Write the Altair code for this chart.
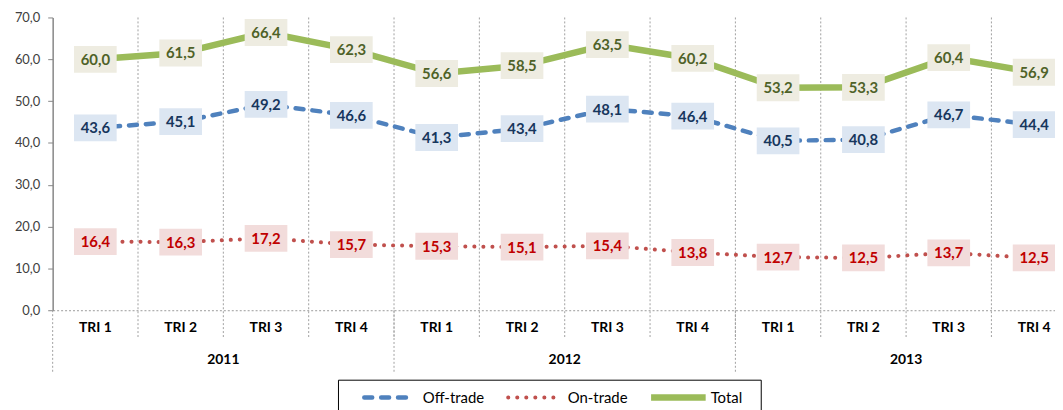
import altair as alt
import pandas as pd

quarters = ["TRI 1", "TRI 2", "TRI 3", "TRI 4"] * 3
years = ["2011", "2012", "2013"]
series = ["Off-trade", "On-trade", "Total"]
total = [60.0, 61.5, 66.4, 62.3, 56.6, 58.5, 63.5, 60.2, 53.2, 53.3, 60.4, 56.9]
off_trade = [43.6, 45.1, 49.2, 46.6, 41.3, 43.4, 48.1, 46.4, 40.5, 40.8, 46.7, 44.4]
on_trade = [16.4, 16.3, 17.2, 15.7, 15.3, 15.1, 15.4, 13.8, 12.7, 12.5, 13.7, 12.5]

line_col = {"Off-trade": "#4F81BD", "On-trade": "#C0504D", "Total": "#9BBB59"}
box_col = {"Off-trade": "#DCE6F2", "On-trade": "#F2DCDB", "Total": "#EEECE1"}
txt_col = {"Off-trade": "#17365D", "On-trade": "#C00000", "Total": "#4F6228"}
FONT = "Lato"

rows = []
for name, vals in zip(series, [off_trade, on_trade, total]):
    for i, v in enumerate(vals):
        rows.append({"series": name, "i": i, "v": v, "lab": f"{v:.1f}".replace(".", ",")})
df = pd.DataFrame(rows)

n = len(quarters)
xscale = alt.Scale(domain=[-0.5, 11.245], nice=False, zero=False)
yscale = alt.Scale(domain=[0, 70], nice=False)

X = alt.X("i:Q", scale=xscale, axis=alt.Axis(labels=False, ticks=False, grid=False, title=None,
                                              domainColor="#9a9a9a", domainDash=[2, 2], domainWidth=1))
Y = alt.Y("v:Q", scale=yscale, axis=alt.Axis(values=[0, 10, 20, 30, 40, 50, 60, 70], grid=False, title=None,
                                              labelExpr="replace(format(datum.value, '.1f'), '.', ',')",
                                              labelFont=FONT, labelFontSize=13, labelColor="#404040",
                                              labelPadding=8, domainColor="#868686", domainWidth=1.5,
                                              tickColor="#868686", tickSize=5, tickWidth=1))

bounds = pd.DataFrame({"b": [k - 0.5 for k in range(1, n)]})
bounds_year = pd.DataFrame({"b": [k * 4 - 0.5 for k in range(len(years))]})
grid = alt.Chart(bounds).mark_rule(color="#a0a0a0", strokeDash=[2, 2], strokeWidth=1, clip=False).encode(
    x=alt.X("b:Q", scale=xscale), y=alt.value(0), y2=alt.value(324))
grid_year = alt.Chart(bounds_year).mark_rule(color="#a0a0a0", strokeDash=[2, 2], strokeWidth=1, clip=False).encode(
    x=alt.X("b:Q", scale=xscale), y=alt.value(295), y2=alt.value(359))

base = alt.Chart(df)
axes = base.mark_point(opacity=0).encode(x=X, y=Y)

line_styles = {
    "Off-trade": dict(strokeDash=[8, 9], strokeWidth=4.5, strokeCap="round"),
    "On-trade": dict(strokeDash=[0.1, 9], strokeWidth=4, strokeCap="round"),
    "Total": dict(strokeWidth=6.5),
}
layers = [grid, grid_year, axes]
for name in series:
    layers.append(base.transform_filter(alt.datum.series == name).mark_line(
        color=line_col[name], clip=True, **line_styles[name]).encode(
        x=alt.X("i:Q", scale=xscale), y=alt.Y("v:Q", scale=yscale)))

box_shape = "M-1,-0.628L1,-0.628L1,0.628L-1,0.628Z"
for name in series:
    sub = base.transform_filter(alt.datum.series == name)
    layers.append(sub.mark_point(shape=box_shape, size=43 * 43, filled=True, opacity=1,
                                 color=box_col[name], strokeWidth=0).encode(
        x=alt.X("i:Q", scale=xscale), y=alt.Y("v:Q", scale=yscale)))
    layers.append(sub.mark_text(font=FONT, fontSize=15, fontWeight="bold", color=txt_col[name],
                                baseline="middle", align="center", dy=0.5).encode(
        x=alt.X("i:Q", scale=xscale), y=alt.Y("v:Q", scale=yscale), text="lab:N"))

qdf = pd.DataFrame({"i": list(range(n)), "q": quarters})
layers.append(alt.Chart(qdf).mark_text(font=FONT, fontSize=14, fontWeight="bold", color="#000000",
                                       baseline="middle", clip=False).encode(
    x=alt.X("i:Q", scale=xscale), y=alt.value(313), text="q:N"))
ydf = pd.DataFrame({"i": [k * 4 + 1.5 for k in range(len(years))], "y": years})
layers.append(alt.Chart(ydf).mark_text(font=FONT, fontSize=14, fontWeight="bold", color="#000000",
                                       baseline="middle", clip=False).encode(
    x=alt.X("i:Q", scale=xscale), y=alt.value(345), text="y:N"))

one = pd.DataFrame({"k": [0]})
layers.append(alt.Chart(one).mark_rect(fill="white", stroke="#000000", strokeWidth=1, clip=False).encode(
    x=alt.value(288), x2=alt.value(714), y=alt.value(365.5), y2=alt.value(420)))
leg_pos = {"Off-trade": (314, 360, 373), "On-trade": (459, 507, 519), "Total": (603, 658, 663)}
for name in series:
    x0, x1, tx = leg_pos[name]
    d = pd.DataFrame({"s": [name]})
    layers.append(alt.Chart(d).mark_rule(color=line_col[name], clip=False, **line_styles[name]).encode(
        x=alt.value(x0), x2=alt.value(x1), y=alt.value(383)))
    layers.append(alt.Chart(d).mark_text(font=FONT, fontSize=15, color="#000000", align="left",
                                         baseline="middle", clip=False).encode(
        x=alt.value(tx), y=alt.value(383.5), text="s:N"))

chart = alt.layer(*layers).properties(
    width=1010, height=295, autosize="none",
    padding={"left": 45, "top": 8, "right": 0, "bottom": 99},
).configure_view(stroke=None)

chart.save("out.html", embed_options={"renderer": "svg", "actions": False})
